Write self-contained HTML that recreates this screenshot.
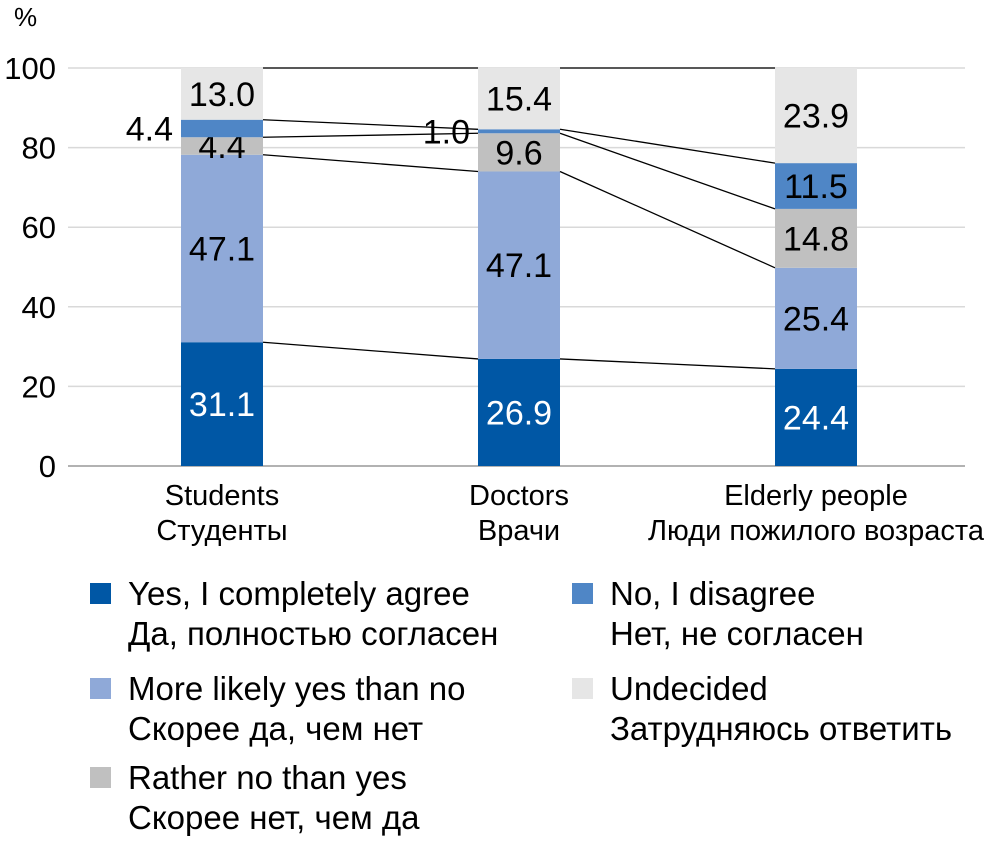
<!DOCTYPE html>
<html><head><meta charset="utf-8">
<style>
html,body{margin:0;padding:0;background:#fff;}
body{width:991px;height:841px;overflow:hidden;font-family:"Liberation Sans Narrow","Liberation Sans",sans-serif;}
svg text{font-family:"Liberation Sans Narrow","Liberation Sans",sans-serif;}
</style></head>
<body>
<svg id="chart" width="991" height="841" xmlns="http://www.w3.org/2000/svg"></svg>
<script>
const categoriesEn = ["Students","Doctors","Elderly people"];
const categoriesRu = ["Студенты","Врачи","Люди пожилого возраста"];
const seriesNames = ["yes-completely","more-likely-yes","rather-no","no-disagree","undecided"];
const yesCompletely = [31.1, 26.9, 24.4];
const moreLikelyYes = [47.1, 47.1, 25.4];
const ratherNo = [4.4, 9.6, 14.8];
const noDisagree = [4.4, 1.0, 11.5];
const undecided = [13.0, 15.4, 23.9];
const yTicks = [0,20,40,60,80,100];
const colors = ["#0057a5","#8fa9d8","#c0c0c0","#4f86c6","#e6e6e6"];
const labelColors = ["#fff","#000","#000","#000","#000"];
const series = [yesCompletely, moreLikelyYes, ratherNo, noDisagree, undecided];

const NS="http://www.w3.org/2000/svg";
const svg=document.getElementById('chart');
const x0=68,x1=965,yBase=466,yTop=68,barW=82;
const y=v=>yBase-(v/100)*(yBase-yTop);
const xc=i=>222+i*297;
function mk(tag,attrs,parent){const e=document.createElementNS(NS,tag);for(const k in attrs)e.setAttribute(k,attrs[k]);(parent||svg).appendChild(e);return e;}

yTicks.forEach(t=>{
  const g=mk('line',{x1:x0,x2:x1,y1:y(t),y2:y(t),stroke:t===0?'#999':'#d9d9d9','stroke-width':1.5});
  
  
  const tx=mk('text',{x:56,y:y(t)+11,'text-anchor':'end','font-size':31,fill:'#000'});
  tx.textContent=t;
  
  
});
const pct=mk('text',{x:14,y:26,'font-size':26,fill:'#000'});pct.textContent='%';



const cums=categoriesEn.map((c,i)=>{let s=0;return series.map(ser=>{s+=ser[i];return s;});});
categoriesEn.forEach((c,i)=>{
  let base=0;
  series.forEach((ser,k)=>{
    const v=ser[i];
    const r=mk('rect',{x:xc(i)-barW/2,y:y(base+v),width:barW,height:y(base)-y(base+v),fill:colors[k]});
    
    
    const mid=y(base+v/2);
    let lx=xc(i), anchor='middle';
    if(v<3 || (k===3 && v<5)){ lx=xc(i)-barW/2-8; anchor='end'; }
    const t=mk('text',{x:lx,y:mid+12,'text-anchor':anchor,'font-size':34,fill:anchor==='end'?'#000':labelColors[k]});
    t.textContent=v.toFixed(1);
    
    
    base+=v;
  });
  const l1=mk('text',{x:xc(i),y:505,'text-anchor':'middle','font-size':29,fill:'#000'});l1.textContent=c;
  
  
  const l2=mk('text',{x:xc(i),y:540,'text-anchor':'middle','font-size':29,fill:'#000'});l2.textContent=categoriesRu[i];
  
  
});
for(let i=0;i<categoriesEn.length-1;i++){
  series.forEach((s,k)=>{
    const ln=mk('line',{x1:xc(i)+barW/2,y1:y(cums[i][k]),x2:xc(i+1)-barW/2,y2:y(cums[i+1][k]),stroke:'#000','stroke-width':1.3});
    
    
  });
}
const legend=[
 [0,90,593,"Yes, I completely agree","Да, полностью согласен"],
 [1,90,688,"More likely yes than no","Скорее да, чем нет"],
 [2,90,777,"Rather no than yes","Скорее нет, чем да"],
 [3,572,593,"No, I disagree","Нет, не согласен"],
 [4,572,688,"Undecided","Затрудняюсь ответить"]];
legend.forEach(([k,lx,ly,en,ru])=>{
  const sq=mk('rect',{x:lx,y:ly-10,width:21,height:21,fill:colors[k]});
  
  
  const a=mk('text',{x:lx+38,y:ly+12,'font-size':33,fill:'#000'});a.textContent=en;
  
  
  const b=mk('text',{x:lx+38,y:ly+52,'font-size':33,fill:'#000'});b.textContent=ru;
  
  
});
</script>
</body></html>
